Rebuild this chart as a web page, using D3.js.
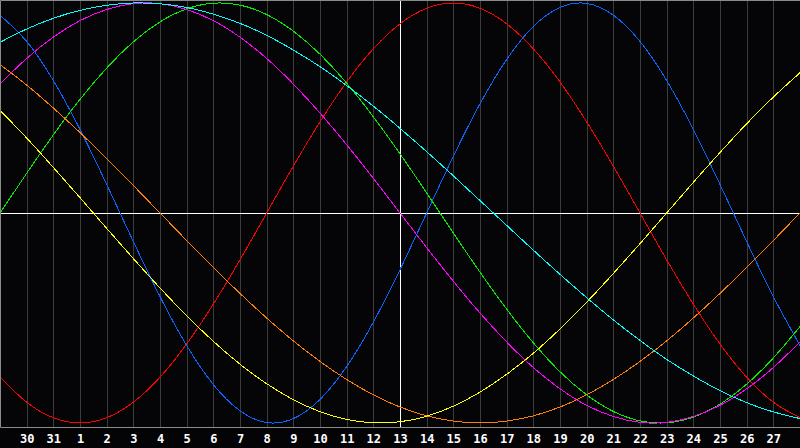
<!DOCTYPE html>
<meta charset="utf-8">
<style>
    body { margin: 0; background: #040407; }
    svg { display: block; }
    .day { font-family: "DejaVu Sans Mono", monospace; font-size: 12px; font-weight: bold; fill: #fff; }
</style>
<body>
<svg></svg>
</body>
<script src="https://d3js.org/d3.v7.min.js"></script>
<script>
    // day labels, one per grid line (first and last line sit on the edges and are unlabeled)
    var days = ["29", "30", "31", "1", "2", "3", "4", "5", "6", "7", "8", "9", "10", "11", "12", "13",
        "14", "15", "16", "17", "18", "19", "20", "21", "22", "23", "24", "25", "26", "27", "28"];
    var todayIndex = 15;

    // cycle values, one per day (-1 .. 1)
    var red = [-0.782, -0.901, -0.975, -1.000, -0.975, -0.901, -0.782, -0.624, -0.434, -0.223, 0.000,
        0.223, 0.434, 0.624, 0.782, 0.901, 0.975, 1.000, 0.975, 0.901, 0.782, 0.624, 0.434, 0.223, 0.000,
        -0.223, -0.434, -0.624, -0.782, -0.901, -0.975];
    var blue = [0.942, 0.817, 0.631, 0.398, 0.136, -0.136, -0.398, -0.631, -0.817, -0.942, -0.998,
        -0.979, -0.888, -0.731, -0.520, -0.270, 0.000, 0.270, 0.520, 0.731, 0.888, 0.979, 0.998, 0.942,
        0.817, 0.631, 0.398, 0.136, -0.136, -0.398, -0.631];
    var green = [0.000, 0.189, 0.372, 0.541, 0.690, 0.815, 0.910, 0.972, 0.999, 0.990, 0.945,
        0.866, 0.756, 0.618, 0.458, 0.282, 0.095, -0.095, -0.282, -0.458, -0.618, -0.756, -0.866, -0.945,
        -0.990, -0.999, -0.972, -0.910, -0.815, -0.690, -0.541];
    var magenta = [0.614, 0.736, 0.837, 0.916, 0.969, 0.997, 0.997, 0.969, 0.916, 0.837, 0.736,
        0.614, 0.476, 0.325, 0.165, 0.000, -0.165, -0.325, -0.476, -0.614, -0.736, -0.837, -0.916, -0.969,
        -0.997, -0.997, -0.969, -0.916, -0.837, -0.736, -0.614];
    var yellow = [0.489, 0.357, 0.217, 0.073, -0.073, -0.217, -0.357, -0.489, -0.611, -0.720, -0.813,
        -0.889, -0.946, -0.983, -0.999, -0.994, -0.968, -0.920, -0.853, -0.768, -0.668, -0.552, -0.425,
        -0.288, -0.146, 0.000, 0.146, 0.288, 0.425, 0.552, 0.668];
    var orange = [0.707, 0.609, 0.500, 0.383, 0.259, 0.131, 0.000, -0.131, -0.259, -0.383, -0.500,
        -0.609, -0.707, -0.793, -0.866, -0.924, -0.966, -0.991, -1.000, -0.991, -0.966, -0.924, -0.866,
        -0.793, -0.707, -0.609, -0.500, -0.383, -0.259, -0.131, 0.000];
    var cyan = [0.813, 0.876, 0.927, 0.965, 0.989, 1.000, 0.996, 0.979, 0.947, 0.903, 0.846,
        0.776, 0.697, 0.607, 0.509, 0.403, 0.292, 0.177, 0.059, -0.059, -0.177, -0.292, -0.403, -0.509,
        -0.607, -0.697, -0.776, -0.846, -0.903, -0.947, -0.979];

    var series = [
        {color: "#ff0000", values: red},
        {color: "#0a64ff", values: blue},
        {color: "#00f000", values: green},
        {color: "#ff00ff", values: magenta},
        {color: "#ffff00", values: yellow},
        {color: "#ff8000", values: orange},
        {color: "#00ffff", values: cyan}
    ];

    var width = 800,
        height = 448,
        plotBottom = 428;

    var svg = d3.select("svg")
        .attr("width", width)
        .attr("height", height);

    var x = d3.scaleLinear()
        .domain([0, days.length - 1])
        .range([0, width]);

    var y = d3.scaleLinear()
        .domain([-1, 1])
        .range([423, 3]);

    svg.append("rect")
        .attr("width", width)
        .attr("height", plotBottom)
        .attr("fill", "#050508");

    // day grid
    svg.append("g")
        .selectAll("line")
        .data(d3.range(1, days.length - 1))
        .enter().append("line")
        .attr("x1", function (d) { return Math.round(x(d)) + 0.5; })
        .attr("x2", function (d) { return Math.round(x(d)) + 0.5; })
        .attr("y1", 0)
        .attr("y2", plotBottom)
        .attr("stroke", function (d) { return d === todayIndex ? "#ffffff" : "#3c3c3c"; })
        .attr("stroke-width", 1);

    svg.append("line")
        .attr("x1", 0)
        .attr("x2", width)
        .attr("y1", Math.round(y(0)) + 0.5)
        .attr("y2", Math.round(y(0)) + 0.5)
        .attr("stroke", "#ffffff");

    var line = d3.line()
        .x(function (d, i) { return x(i); })
        .y(function (d) { return y(d); })
        .curve(d3.curveNatural);

    svg.append("g")
        .selectAll("path")
        .data(series)
        .enter().append("path")
        .attr("d", function (d) { return line(d.values); })
        .attr("fill", "none")
        .attr("stroke", function (d) { return d.color; })
        .attr("stroke-width", 1)
        .attr("shape-rendering", "crispEdges");

    // frame: top, left, bottom
    svg.append("path")
        .attr("d", "M" + width + ",0.5H0.5V" + (plotBottom - 0.5) + "H" + width)
        .attr("fill", "none")
        .attr("stroke", "#8a8a8a")
        .attr("stroke-width", 1);

    svg.append("g")
        .selectAll("text")
        .data(days.slice(1, days.length - 1))
        .enter().append("text")
        .attr("class", "day")
        .attr("x", function (d, i) { return x(i + 1) + 0.5; })
        .attr("y", 443)
        .attr("text-anchor", "middle")
        .text(function (d) { return d; });
</script>
</html>
